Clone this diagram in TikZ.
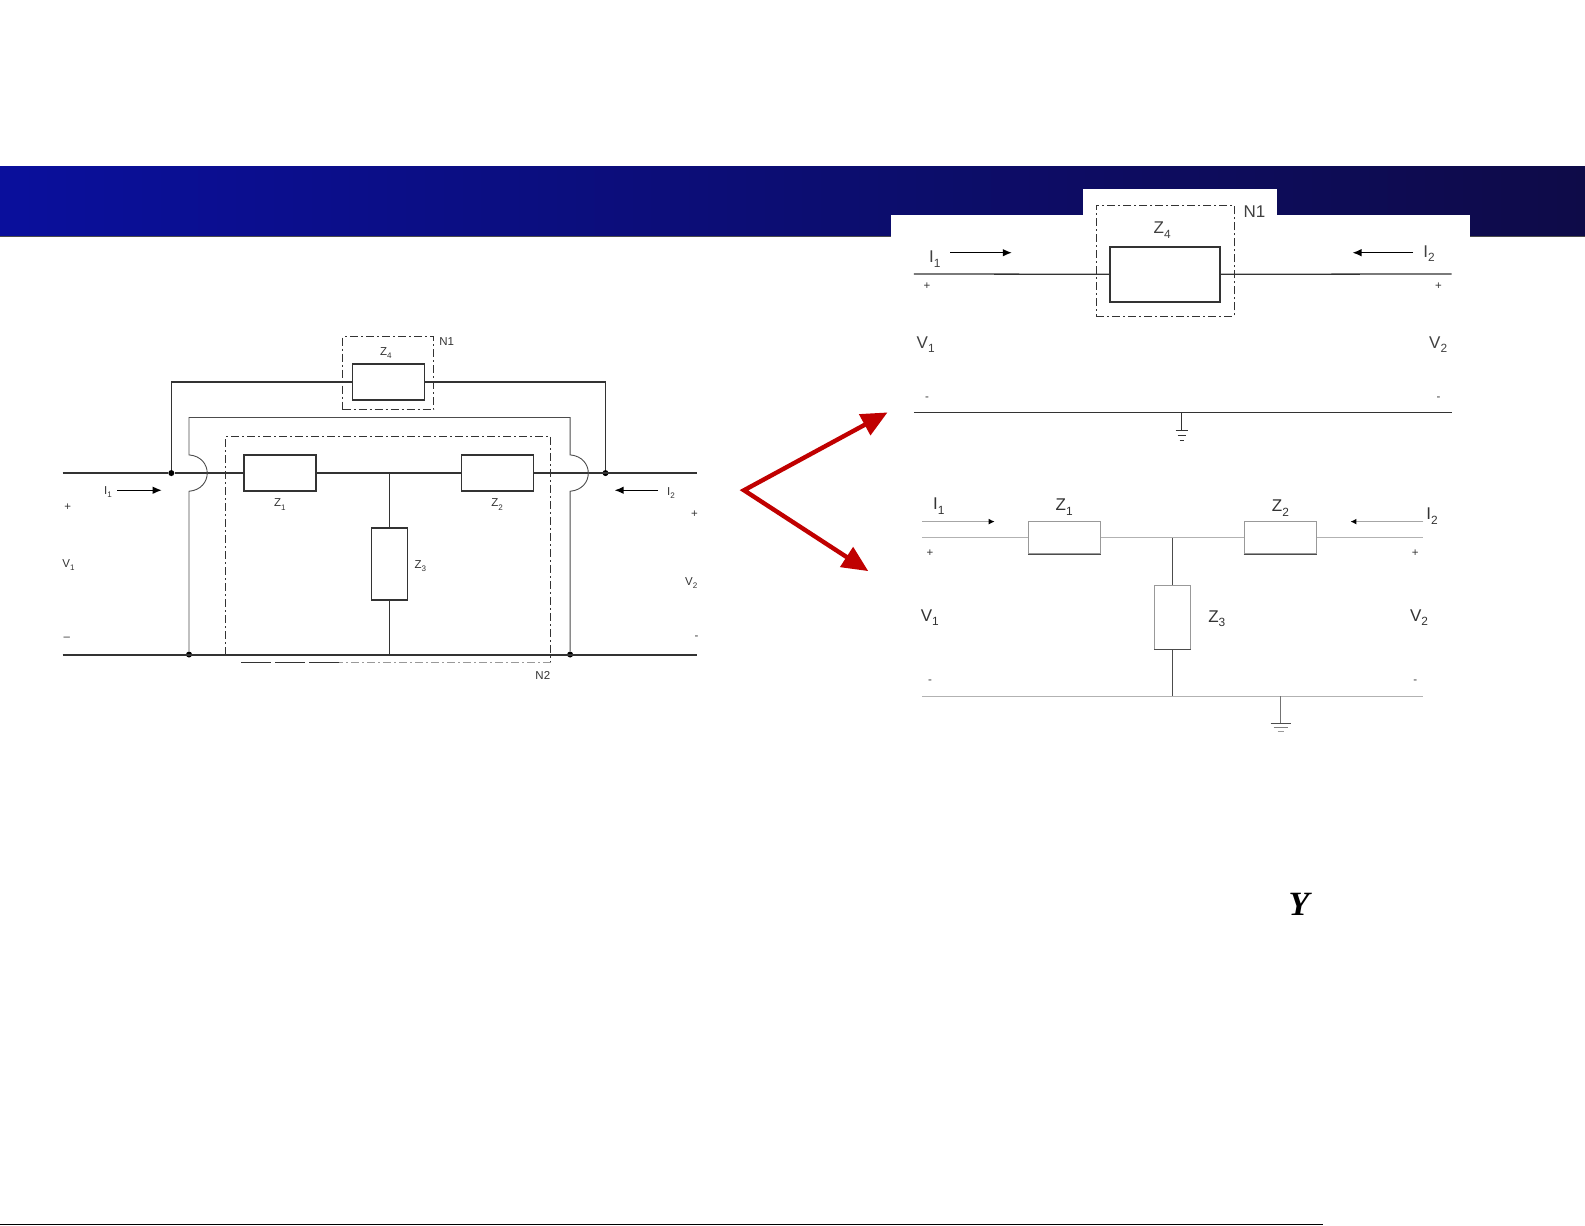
\documentclass[tikz,border=0pt]{standalone}
\usepackage{fontspec}
\setmainfont{Liberation Sans}
\newfontfamily\yfont{Liberation Serif}
\usepackage{tikz}
\usetikzlibrary{shapes,arrows,arrows.meta}
\definecolor{bandL}{HTML}{0A0F9C}
\definecolor{bandM}{HTML}{0A0A80}
\definecolor{bandR}{HTML}{0E0B48}
\definecolor{redarr}{HTML}{C00000}
\newcommand{\lowsub}[1]{\textsubscript{\raisebox{-0.35ex}{#1}}}

\begin{document}
\begin{tikzpicture}[x=1.01084pt, y=-1.01084pt,
	wire/.style={draw, line width=1.3pt, black!80},
	thin wire/.style={draw, line width=0.9pt, black!70},
	pale/.style={draw, line width=1.1pt, black!30},
	zbox/.style={draw, line width=1.3pt, black!80, inner sep=0, fill=white},
	palebox/.style={draw, line width=1.1pt, black!40, inner sep=0, fill=white},
	circ/.style={circle, fill, minimum width=6, minimum height=6, inner sep=0},
	dashbox/.style={draw, line width=1pt, black!80, inner sep=0, dash pattern=on 8pt off 3pt on 2pt off 3pt},
	small/.style={font=\fontsize{11.5}{13}\selectfont, inner sep=0, text=black!80},
	big/.style={font=\fontsize{17}{19}\selectfont, inner sep=0, text=black!75},
	mid/.style={font=\fontsize{17}{19}\selectfont, inner sep=0, text=black!80},
	arr/.style={draw, line width=1.2pt, -{Latex[length=9pt,width=7.5pt]}},
	palearr/.style={draw, line width=1.7pt, black!35, -{Latex[length=6pt,width=6pt,black]}},
	redline/.style={draw=redarr, line width=4.4pt, {Triangle[length=26pt,width=23pt]}-{Triangle[length=26pt,width=23pt]}}
]
\useasboundingbox (0,0) rectangle (1568,1212);

% title band
\shade[left color=bandL, middle color=bandM, right color=bandR] (0,164.5) rectangle (1568,234);
\draw[black!70, line width=0.8pt] (0,234) -- (1568,234);
\fill[white] (881,213) rectangle (1454,236);
\fill[white] (1071,187) rectangle (1263,236);

% left circuit
\node[zbox, minimum width=72, minimum height=36] (z4) at (384.5,378) {};
\node[dashbox, minimum width=91, minimum height=73] (n1) at (384,369) {};
\node[zbox, minimum width=72, minimum height=36] (z1) at (277,468) {};
\node[zbox, minimum width=72, minimum height=36] (z2) at (492,468) {};
\node[zbox, minimum width=36, minimum height=72] (z3) at (385,558) {};
\node[circ] (d1) at (169.5,468) {};
\node[circ] (d2) at (599,468) {};
\node[circ] (d3) at (187,647.5) {};
\node[circ] (d4) at (564,647.5) {};
\coordinate (la) at (62,468);
\coordinate (lb) at (690,468);
\coordinate (lc) at (62,648);
\coordinate (ld) at (690,648);
\coordinate (tee) at (385,468);
\coordinate (foot) at (385,648);
\coordinate (h1) at (187,450);
\coordinate (h2) at (187,486);
\coordinate (h3) at (564,450);
\coordinate (h4) at (564,486);
\coordinate (c1) at (169.5,378);
\coordinate (c2) at (599,378);
\coordinate (c3) at (187,413);
\coordinate (c4) at (564,413);

\draw[wire] (la) -- (d1) -- (z1) -- (z2) -- (lb);
\draw[wire] (d1) -- (c1) -- (z4) -- (c2) -- (d2);
\draw[wire] (tee) -- (z3) -- (foot);
\draw[wire, line width=1.1pt] (lc) -- (ld);
\draw[thin wire] (d3) -- (h2) .. controls (211,484) and (211,452) .. (h1) -- (c3) -- (c4) -- (h3) .. controls (588,452) and (588,484) .. (h4) -- (d4);

% N2 box, its lower edge fades
\coordinate (n2a) at (223,648);
\coordinate (n2b) at (223,432);
\coordinate (n2c) at (545,432);
\coordinate (n2d) at (545,655);
\coordinate (n2e) at (335,655);
\coordinate (n2f) at (235,655);
\draw[line width=1pt, black!80, dash pattern=on 8pt off 3pt on 2pt off 3pt] (n2a) -- (n2b) -- (n2c) -- (n2d);
\draw[line width=1pt, black!40, dash pattern=on 8pt off 3pt on 2pt off 3pt] (n2d) -- (n2e);
\draw[line width=1pt, black!80, dash pattern=on 30pt off 4pt] (n2e) -- (n2f);

\node[small] (lz4) at (382,349) {Z\lowsub{4}};
\node[small] (ln1) at (442,338) {N1};
\node[small] (lz1) at (277,499) {Z\lowsub{1}};
\node[small] (lz2) at (492,499) {Z\lowsub{2}};
\node[small] (lz3) at (416,560) {Z\lowsub{3}};
\node[small] (ln2) at (537,668) {N2};
\node[small] (li1) at (107,487) {I\lowsub{1}};
\node[small] (li2) at (664,488) {I\lowsub{2}};
\node[small] (lv1) at (68,559) {V\lowsub{1}};
\node[small] (lv2) at (684,577) {V\lowsub{2}};
\node[small] (lp1) at (67,502) {+};
\node[small] (lp2) at (687,509) {+};
\node[small] (lm1) at (66,632) {–};
\node[small] (lm2) at (689,631) {-};
\coordinate (a1) at (116,485);
\coordinate (a2) at (160,485);
\coordinate (a3) at (651,485);
\coordinate (a4) at (608,485);
\draw[arr] (a1) -- (a2);
\draw[arr] (a3) -- (a4);

% red arrows
\coordinate (ra) at (878,408);
\coordinate (rb) at (736,485);
\coordinate (rc) at (859,565);
\draw[redline] (ra) -- (rb) -- (rc);

% upper right circuit
\node[zbox, minimum width=110, minimum height=55] (tz4) at (1152.5,271.5) {};
\node[dashbox, minimum width=138, minimum height=111] (tn1) at (1152.5,258) {};
\coordinate (ta) at (904,271);
\coordinate (tb) at (1436,271);
\coordinate (tc) at (904,408);
\coordinate (td) at (1436,408);
\coordinate (tg) at (1169,408);
\coordinate (tg1) at (1169,426);
\coordinate (ts1) at (1071,271.5);
\coordinate (ts2) at (1263,271.5);
\draw[wire] (ta) -- (tz4) -- (tb);
\draw[wire, line width=1.6pt] (ts1) -- (tz4) -- (ts2);
\draw[wire] (tc) -- (td);
\draw[wire] (tg) -- (tg1);
\draw[wire, line width=1pt] (1163,426) -- (1175,426);
\draw[wire, line width=1pt] (1165,431) -- (1173,431);
\draw[wire, line width=1pt] (1167,435.5) -- (1171,435.5);
\node[big] (tlz4) at (1150,228) {Z\lowsub{4}};
\node[big] (tln1) at (1241,209) {N1};
\node[big] (tli1) at (925,256) {I\lowsub{1}};
\node[big] (tli2) at (1414,251) {I\lowsub{2}};
\node[big] (tlv1) at (916,341) {V\lowsub{1}};
\node[big] (tlv2) at (1423,341) {V\lowsub{2}};
\node[small] (tlp1) at (917,283) {+};
\node[small] (tlp2) at (1423,283) {+};
\node[small] (tlm1) at (917,394) {-};
\node[small] (tlm2) at (1423,394) {-};
\coordinate (ta1) at (940,250);
\coordinate (ta2) at (1001,250);
\coordinate (ta3) at (1398,250);
\coordinate (ta4) at (1338,250);
\draw[arr] (ta1) -- (ta2);
\draw[arr] (ta3) -- (ta4);

% lower right circuit
\node[palebox, minimum width=72, minimum height=32] (bz1) at (1053.5,532) {};
\node[palebox, minimum width=72, minimum height=32] (bz2) at (1266.5,532) {};
\node[palebox, minimum width=36, minimum height=64] (bz3) at (1160,610.5) {};
\coordinate (ba) at (912,532);
\coordinate (bb) at (1408,532);
\coordinate (bc) at (912,689);
\coordinate (bd) at (1408,689);
\coordinate (bt) at (1160,532);
\coordinate (bf) at (1160,689);
\coordinate (bg) at (1267,689);
\coordinate (bg1) at (1267,716);
\draw[pale] (ba) -- (bz1) -- (bz2) -- (bb);
\draw[pale] (bc) -- (bd);
\draw[thin wire] (bt) -- (bz3) -- (bf);
\draw[pale, black!55] (bg) -- (bg1);
% darker lower edges
\draw[thin wire] (bz1.south west) -- (bz1.south east);
\draw[thin wire] (bz2.south west) -- (bz2.south east);
\draw[thin wire] (bz3.south west) -- (bz3.south east);
\draw[thin wire] (1257,716) -- (1277,716);
\draw[thin wire, black!50] (1260,720) -- (1274,720);
\draw[thin wire, black!40] (1264,724) -- (1270,724);
\node[mid] (blz1) at (1053,502) {Z\lowsub{1}};
\node[mid] (blz2) at (1267,503) {Z\lowsub{2}};
\node[mid] (blz3) at (1204,612) {Z\lowsub{3}};
\node[mid] (bli1) at (929,501) {I\lowsub{1}};
\node[mid] (bli2) at (1417,511) {I\lowsub{2}};
\node[mid] (blv1) at (920,611) {V\lowsub{1}};
\node[mid] (blv2) at (1404,611) {V\lowsub{2}};
\node[small] (blp1) at (920,547) {+};
\node[small] (blp2) at (1400,547) {+};
\node[small] (blm1) at (920,674) {-};
\node[small] (blm2) at (1400,674) {-};
\coordinate (ba1) at (912,516);
\coordinate (ba2) at (984,516);
\coordinate (ba3) at (1408,516);
\coordinate (ba4) at (1336,516);
\draw[palearr] (ba1) -- (ba2);
\draw[palearr] (ba3) -- (ba4);

% lone symbol and foot rule
\node[inner sep=0, font=\fontsize{34}{36}\selectfont\yfont\bfseries\itshape] (ysym) at (1285,895) {Y};
\draw[black, line width=1pt] (0,1211.3) -- (1309,1211.3);
\end{tikzpicture}
\end{document}
